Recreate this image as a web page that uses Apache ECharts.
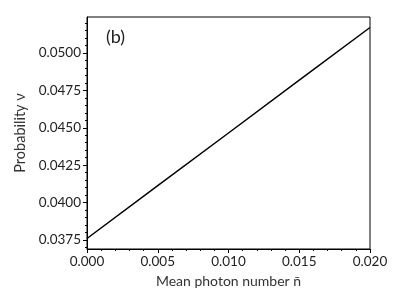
<!DOCTYPE html>
<html><head><meta charset="utf-8">
<script src="https://cdn.jsdelivr.net/npm/echarts@6/dist/echarts.min.js"></script>
<style>html,body{margin:0;padding:0;background:#fff}#c{width:407px;height:306px}</style>
</head><body><div id="c"></div>
<script>
const xValues = [0.000, 0.005, 0.010, 0.015, 0.020];
const probability = [0.0376, 0.04113, 0.04465, 0.04818, 0.0517];
const yTicks = [0.0375, 0.0400, 0.0425, 0.0450, 0.0475, 0.0500];
const yMinorTicks = [0.0370, 0.0380, 0.0385, 0.0390, 0.0395, 0.0405, 0.0410, 0.0415, 0.0420, 0.0430, 0.0435, 0.0440, 0.0445, 0.0455, 0.0460, 0.0465, 0.0470, 0.0480, 0.0485, 0.0490, 0.0495, 0.0505, 0.0510, 0.0515, 0.0520];
const yMin = 0.0369, yMax = 0.0524;
const font = 'Lato';
const chart = echarts.init(document.getElementById('c'));
chart.setOption({
  animation: false,
  grid: {left: 87, right: 37, top: 17, bottom: 57, show: true, borderColor: '#000', borderWidth: 1},
  title: {text: '(b)', left: 101, top: 23, textStyle: {fontFamily: font, fontSize: 18, fontWeight: 'normal', color: '#222'}},
  xAxis: {
    type: 'value', min: 0, max: 0.02, interval: 0.005,
    name: 'Mean photon number n̄', nameLocation: 'middle', nameGap: 25,
    nameTextStyle: {fontFamily: font, fontSize: 14, color: '#333'},
    axisLine: {show: true, lineStyle: {color: '#000'}},
    axisTick: {show: true, length: 4, lineStyle: {color: '#000'}},
    minorTick: {show: true, splitNumber: 5, length: 2, lineStyle: {color: '#000'}},
    axisLabel: {fontFamily: font, fontSize: 13.5, color: '#222', margin: 6, formatter: v => v.toFixed(3)},
    splitLine: {show: false}
  },
  yAxis: [{
    type: 'value', min: yMin, max: yMax,
    name: 'Probability ν', nameLocation: 'middle', nameGap: 59,
    nameTextStyle: {fontFamily: font, fontSize: 14.5, color: '#333'},
    axisLine: {show: true, lineStyle: {color: '#000'}},
    axisTick: {show: true, length: 4, customValues: yTicks, lineStyle: {color: '#000'}},
    axisLabel: {fontFamily: font, fontSize: 13.5, color: '#222', margin: 6, customValues: yTicks, formatter: v => v.toFixed(4)},
    splitLine: {show: false}
  }, {
    type: 'value', min: yMin, max: yMax, position: 'left',
    axisLine: {show: false},
    axisTick: {show: true, length: 2, customValues: yMinorTicks, lineStyle: {color: '#000'}},
    axisLabel: {show: false},
    splitLine: {show: false}
  }],
  series: [{
    type: 'line', yAxisIndex: 0, showSymbol: false,
    data: xValues.map((x, i) => [x, probability[i]]),
    lineStyle: {color: '#000', width: 1.5}
  }]
});
</script></body></html>
